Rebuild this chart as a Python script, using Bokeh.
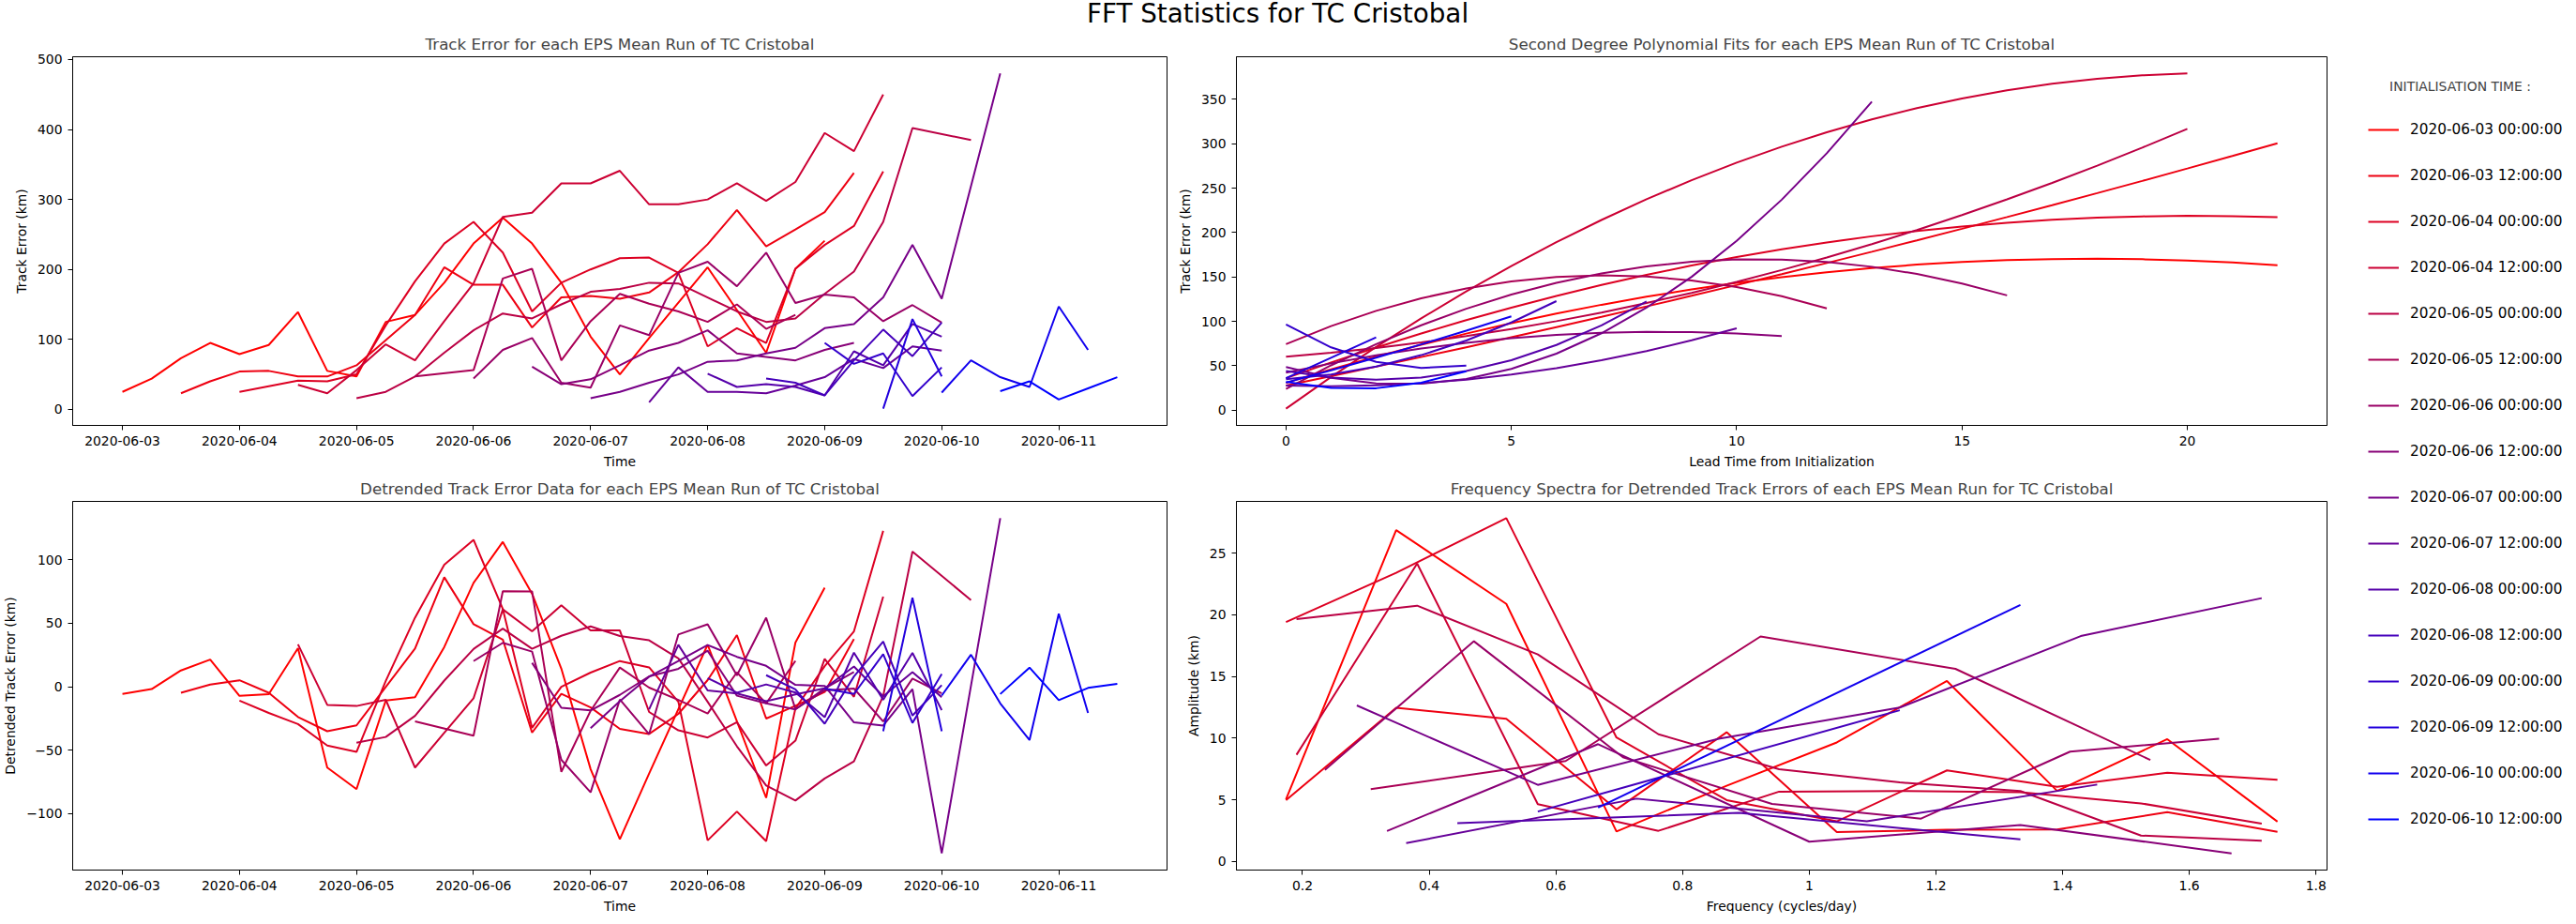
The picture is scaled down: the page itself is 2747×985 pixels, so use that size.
import numpy as np
import pandas as pd
from bokeh.plotting import figure
from bokeh.layouts import row, column
from bokeh.models import (Range1d, DatetimeTickFormatter, DaysTicker, SingleIntervalTicker,
                          BasicTickFormatter, CustomJSTickFormatter, Legend, LegendItem, Div)
from bokeh.embed import file_html
from bokeh.resources import INLINE

FONT = "DejaVu Sans"

# initialisation time of each EPS mean run
init_times = ["2020-06-03 00:00:00", "2020-06-03 12:00:00", "2020-06-04 00:00:00",
              "2020-06-04 12:00:00", "2020-06-05 00:00:00", "2020-06-05 12:00:00",
              "2020-06-06 00:00:00", "2020-06-06 12:00:00", "2020-06-07 00:00:00",
              "2020-06-07 12:00:00", "2020-06-08 00:00:00", "2020-06-08 12:00:00",
              "2020-06-09 00:00:00", "2020-06-09 12:00:00", "2020-06-10 00:00:00",
              "2020-06-10 12:00:00"]

# lead time (hours) and track error (km) of each run
lead_r00 = [0, 6, 12, 18, 24, 30, 36, 42, 48, 54, 60, 66, 72, 78, 84, 90, 96, 102, 108, 120, 132, 138, 144]
err_r00 = [25, 44, 73, 95, 79, 92, 139, 55, 47, 125, 135, 181, 237, 274, 237, 181, 104, 50, 102, 203, 81, 201, 241]

lead_r01 = [0, 6, 12, 18, 24, 30, 36, 48, 54, 60, 66, 72, 78, 84, 90, 96, 102, 108, 114, 120, 126, 132, 138]
err_r01 = [23, 40, 54, 55, 47, 47, 63, 135, 203, 178, 178, 117, 160, 162, 158, 167, 196, 236, 285, 233, 257, 282, 338]

lead_r02 = [0, 6, 12, 18, 24, 30, 36, 42, 48, 54, 60, 66, 72, 78, 84, 90, 96, 102, 108, 114, 120, 126, 132]
err_r02 = [25, 33, 41, 40, 50, 120, 183, 237, 268, 224, 140, 181, 200, 216, 217, 195, 90, 116, 95, 201, 235, 262, 340]

lead_r03 = [0, 6, 12, 18, 24, 30, 36, 42, 48, 54, 60, 66, 72, 78, 84, 90, 96, 102, 108, 114, 120]
err_r03 = [35, 23, 56, 93, 70, 126, 180, 275, 281, 323, 323, 341, 293, 293, 300, 323, 298, 325, 395, 369, 450]

lead_r04 = [0, 6, 12, 18, 24, 30, 36, 42, 48, 54, 60, 66, 72, 78, 84, 90, 96, 102, 108, 114, 126]
err_r04 = [16, 25, 47, 81, 113, 137, 130, 150, 168, 172, 181, 180, 160, 140, 125, 130, 165, 197, 268, 402, 385]

lead_r05 = [0, 12, 18, 24, 30, 36, 42, 48, 54, 60, 66, 72, 78]
err_r05 = [47, 56, 187, 201, 70, 126, 165, 151, 140, 125, 150, 115, 135]

lead_r06 = [0, 6, 12, 18, 24, 30, 36, 42, 48, 54, 60, 66, 72, 78, 84, 90, 96]
err_r06 = [44, 85, 102, 38, 31, 120, 106, 195, 211, 176, 224, 152, 164, 160, 126, 149, 124]

lead_r07 = [0, 6, 12, 18, 24, 30, 36, 42, 48, 54, 60, 66]
err_r07 = [61, 36, 43, 63, 84, 95, 113, 80, 75, 70, 85, 95]

lead_r08 = [0, 6, 12, 18, 24, 30, 36, 42, 48, 54, 60, 66, 72, 84]
err_r08 = [16, 25, 38, 50, 68, 70, 80, 88, 116, 122, 160, 235, 158, 480]

lead_r09 = [0, 6, 12, 18, 24, 30, 36, 42, 48, 54, 60]
err_r09 = [10, 60, 25, 25, 23, 34, 46, 72, 59, 90, 84]

lead_r10 = [0, 6, 12, 18, 24, 30, 36, 42, 48]
err_r10 = [51, 32, 36, 32, 20, 83, 63, 122, 104]

lead_r11 = [0, 6, 12, 18, 24, 30, 36]
err_r11 = [44, 38, 20, 70, 114, 76, 124]

lead_r12 = [0, 6, 12, 18, 24]
err_r12 = [95, 65, 80, 19, 60]

lead_r13 = [0, 6, 12]
err_r13 = [1, 129, 47]

lead_r14 = [0, 6, 12, 18, 24, 30]
err_r14 = [24, 70, 46, 32, 147, 85]

lead_r15 = [0, 6, 12, 18, 24]
err_r15 = [26, 40, 14, 30, 46]

leads = [lead_r00, lead_r01, lead_r02, lead_r03, lead_r04, lead_r05, lead_r06, lead_r07,
         lead_r08, lead_r09, lead_r10, lead_r11, lead_r12, lead_r13, lead_r14, lead_r15]
errors = [err_r00, err_r01, err_r02, err_r03, err_r04, err_r05, err_r06, err_r07,
          err_r08, err_r09, err_r10, err_r11, err_r12, err_r13, err_r14, err_r15]

n_runs = len(init_times)
colors = ["#%02x00%02x" % (round(255 * (1 - i / (n_runs - 1))), round(255 * i / (n_runs - 1)))
          for i in range(n_runs)]

# fits, detrended errors and spectra (6-hourly sampling -> 0.25 day)
runs = []
for init, lead, err in zip(init_times, leads, errors):
    err = np.array(err, dtype=float)
    n = len(err)
    idx = np.arange(n)
    coef = np.polyfit(idx, err, 2 if n > 3 else 1)
    fit = np.polyval(coef, idx)
    resid = err - fit
    amp = np.abs(np.fft.fft(resid)) / n
    freq = np.fft.fftfreq(n, d=0.25)
    half = n // 2
    times = (pd.Timestamp(init) + pd.to_timedelta(lead, unit="h")).to_pydatetime()
    runs.append(dict(times=times, err=err, idx=idx, fit=fit, resid=resid,
                     freq=freq[1:half], amp=amp[1:half]))


def padded(lo, hi):
    span = hi - lo
    return Range1d(lo - 0.05 * span, hi + 0.05 * span)


def style(p):
    p.title.align = "center"
    p.title.text_font = FONT
    p.title.text_font_size = "16.7px"
    p.title.text_font_style = "normal"
    p.title.standoff = 8
    p.xgrid.grid_line_color = None
    p.ygrid.grid_line_color = None
    p.outline_line_color = "black"
    p.outline_line_alpha = 1
    for ax in p.axis:
        ax.axis_label_text_font = FONT
        ax.axis_label_text_font_size = "13.9px"
        ax.axis_label_text_font_style = "normal"
        ax.axis_label_text_color = "black"
        ax.axis_label_standoff = 6
        ax.major_label_text_font = FONT
        ax.major_label_text_font_size = "13.9px"
        ax.major_label_text_color = "black"
        ax.major_label_standoff = 6
        ax.major_tick_in = 0
        ax.major_tick_out = 5
        ax.major_tick_line_color = "black"
        ax.minor_tick_line_color = None
        ax.axis_line_color = "black"


all_times = np.concatenate([r["times"] for r in runs])
t0, t1 = pd.Timestamp(min(all_times)), pd.Timestamp(max(all_times))
tpad = (t1 - t0) * 0.05
time_range_top = Range1d(t0 - tpad, t1 + tpad)
time_range_bot = Range1d(t0 - tpad, t1 + tpad)

date_fmt = DatetimeTickFormatter(days="%Y-%m-%d", months="%Y-%m-%d", hours="%Y-%m-%d",
                                 years="%Y-%m-%d")

all_err = np.concatenate([r["err"] for r in runs])
all_fit = np.concatenate([r["fit"] for r in runs])
all_res = np.concatenate([r["resid"] for r in runs])
all_idx = np.concatenate([r["idx"] for r in runs])
all_frq = np.concatenate([r["freq"] for r in runs])
all_amp = np.concatenate([r["amp"] for r in runs])

# top-left: track error vs time
p_tl = figure(title="Track Error for each EPS Mean Run of TC Cristobal",
              x_axis_type="datetime", x_range=time_range_top,
              y_range=padded(all_err.min(), all_err.max()),
              frame_width=1167, frame_height=393, min_border_left=71, min_border_right=8,
              min_border_top=28, min_border_bottom=46,
              x_axis_label="Time", y_axis_label="Track Error (km)",
              toolbar_location=None, output_backend="svg")
for r, c in zip(runs, colors):
    p_tl.line(r["times"], r["err"], color=c, line_width=2)
p_tl.xaxis.ticker = DaysTicker(days=list(range(1, 32)))
p_tl.xaxis.formatter = date_fmt
p_tl.yaxis.ticker = SingleIntervalTicker(interval=100)
style(p_tl)

# bottom-left: detrended track error vs time
p_bl = figure(title="Detrended Track Error Data for each EPS Mean Run of TC Cristobal",
              x_axis_type="datetime", x_range=time_range_bot,
              y_range=padded(all_res.min(), all_res.max()),
              frame_width=1167, frame_height=393, min_border_left=71, min_border_right=8,
              min_border_top=32, min_border_bottom=44,
              x_axis_label="Time", y_axis_label="Detrended Track Error (km)",
              toolbar_location=None, output_backend="svg")
for r, c in zip(runs, colors):
    p_bl.line(r["times"], r["resid"], color=c, line_width=2)
p_bl.xaxis.ticker = DaysTicker(days=list(range(1, 32)))
p_bl.xaxis.formatter = date_fmt
p_bl.yaxis.ticker = SingleIntervalTicker(interval=50)
p_bl.yaxis.formatter = CustomJSTickFormatter(
    code="return tick < 0 ? '\\u2212' + Math.abs(tick) : tick.toString();")
style(p_bl)

# top-right: second degree polynomial fits vs lead index
p_tr = figure(title="Second Degree Polynomial Fits for each EPS Mean Run of TC Cristobal",
              x_range=padded(all_idx.min(), all_idx.max()),
              y_range=padded(all_fit.min(), all_fit.max()),
              frame_width=1163, frame_height=393, min_border_left=62, min_border_right=6,
              min_border_top=28, min_border_bottom=46,
              x_axis_label="Lead Time from Initialization", y_axis_label="Track Error (km)",
              toolbar_location=None, output_backend="svg")
for r, c in zip(runs, colors):
    p_tr.line(r["idx"], r["fit"], color=c, line_width=2)
p_tr.xaxis.ticker = SingleIntervalTicker(interval=5)
p_tr.yaxis.ticker = SingleIntervalTicker(interval=50)
style(p_tr)

# bottom-right: amplitude spectra
p_br = figure(title="Frequency Spectra for Detrended Track Errors of each EPS Mean Run for TC Cristobal",
              x_range=padded(all_frq.min(), all_frq.max()),
              y_range=padded(all_amp.min(), all_amp.max()),
              frame_width=1163, frame_height=393, min_border_left=62, min_border_right=6,
              min_border_top=32, min_border_bottom=44,
              x_axis_label="Frequency (cycles/day)", y_axis_label="Amplitude (km)",
              toolbar_location=None, output_backend="svg")
for r, c in zip(runs, colors):
    if len(r["freq"]) > 1:
        p_br.line(r["freq"], r["amp"], color=c, line_width=2)
p_br.xaxis.ticker = SingleIntervalTicker(interval=0.2)
p_br.xaxis.formatter = BasicTickFormatter(precision=1)
p_br.yaxis.ticker = SingleIntervalTicker(interval=5)
style(p_br)

# legend panel (its lines sit outside the visible range; only the legend is shown)
p_leg = figure(title="INITIALISATION TIME :", x_range=Range1d(-3, -2), y_range=Range1d(-3, -2),
               frame_width=224, frame_height=862, min_border_left=24, min_border_right=0,
               min_border_top=74, min_border_bottom=0,
               x_axis_location=None, y_axis_location=None,
               toolbar_location=None, output_backend="svg")
p_leg.outline_line_color = None
p_leg.xgrid.grid_line_color = None
p_leg.ygrid.grid_line_color = None
p_leg.title.align = "center"
p_leg.title.text_font = FONT
p_leg.title.text_font_size = "13.9px"
p_leg.title.text_font_style = "normal"
p_leg.title.standoff = 10
items = []
for label, r, c in zip(init_times, runs, colors):
    rend = p_leg.line(r["idx"], r["fit"], color=c, line_width=2)
    items.append(LegendItem(label=label, renderers=[rend]))
# (x, y) is the legend's bottom-left corner, measured from the frame's bottom-left
legend = Legend(items=items, location=(14, 83), margin=0, padding=12,
                spacing=29, glyph_width=33, glyph_height=20, label_height=20,
                label_standoff=12, label_text_font=FONT, label_text_font_size="15.3px",
                label_text_color="black", border_line_color=None, background_fill_alpha=0)
p_leg.add_layout(legend)

header = Div(text="FFT Statistics for TC Cristobal", width=2725, height=30, margin=0,
             styles={"font-size": "27.8px", "font-family": FONT, "text-align": "center",
                     "line-height": "30px", "color": "black"})

layout = column(header, row(column(p_tl, p_bl), column(p_tr, p_br), p_leg))

open("out.html", "w").write(file_html(layout, INLINE))
